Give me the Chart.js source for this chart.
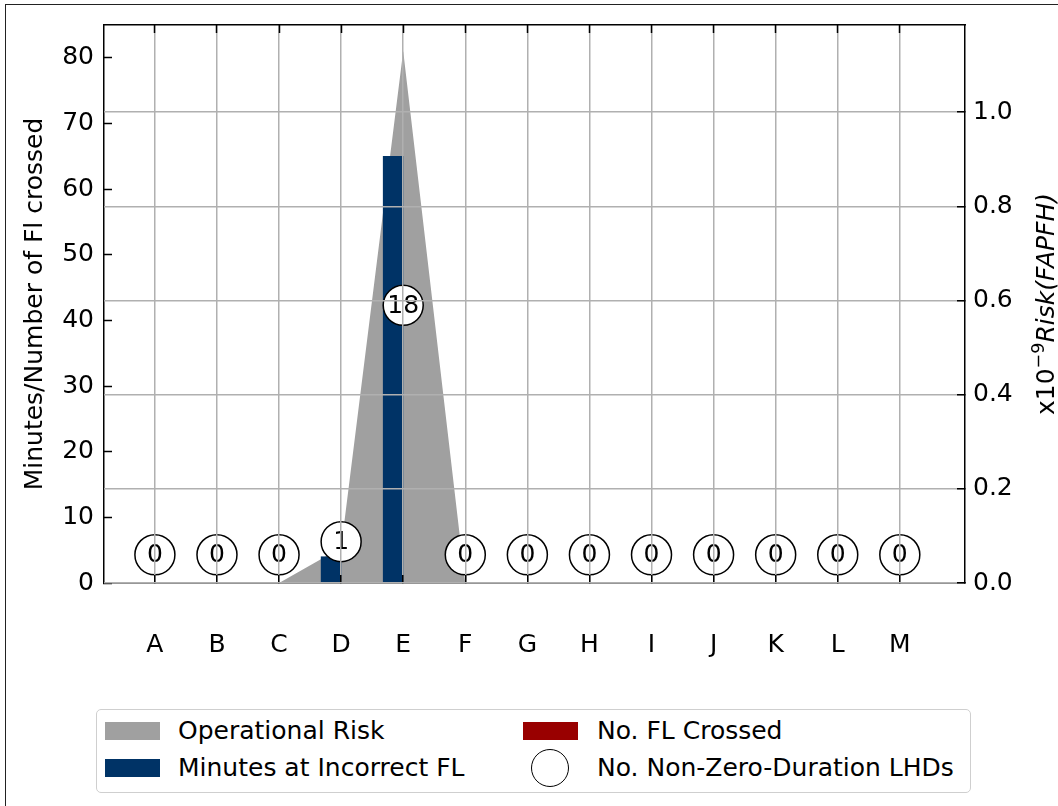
<!DOCTYPE html>
<html>
<head>
<meta charset="utf-8">
<script src="https://cdn.jsdelivr.net/npm/chart.js@4"></script>
<style>
  html, body { margin: 0; padding: 0; background: #fff; }
  #wrap { position: relative; width: 1058px; height: 806px; overflow: hidden; font-family: 'DejaVu Sans', sans-serif; }
  #frame { position: absolute; left: 5px; top: 4px; width: 1200px; height: 1000px; border-top: 1.5px solid #222; border-left: 1.5px solid #222; }
  canvas { position: absolute; left: 0; top: 0; }
  #legend { position: absolute; left: 96px; top: 709px; width: 875px; height: 84px; border: 1.5px solid #cfcfcf; border-radius: 5px; box-sizing: border-box; background: #fff; }
  .lbl { position: absolute; font-size: 25px; line-height: 30px; color: #000; white-space: nowrap; }
  .patch { position: absolute; width: 55px; height: 18px; }
  .ring { position: absolute; width: 36px; height: 36px; border: 1.5px solid #000; border-radius: 50%; background: #fff; }
</style>
</head>
<body>
<div id="wrap">
  <div id="frame"></div>
  <canvas id="chart" width="1058" height="806"></canvas>
  <div id="legend">
    <div class="patch" style="left:8px; top:12px; background:#a0a0a0"></div>
    <div class="lbl" style="left:81px; top:6px">Operational Risk</div>
    <div class="patch" style="left:8px; top:49px; background:#003366"></div>
    <div class="lbl" style="left:81px; top:43px">Minutes at Incorrect FL</div>
    <div class="patch" style="left:426px; top:12px; background:#990000"></div>
    <div class="lbl" style="left:500px; top:6px">No. FL Crossed</div>
    <div class="ring" style="left:434px; top:39px"></div>
    <div class="lbl" style="left:500px; top:43px">No. Non-Zero-Duration LHDs</div>
  </div>
</div>
<script>
const categories = ['A', 'B', 'C', 'D', 'E', 'F', 'G', 'H', 'I', 'J', 'K', 'L', 'M'];
const minutesIncorrect = [0, 0, 0, 4, 65, 0, 0, 0, 0, 0, 0, 0, 0];
const flCrossed = [0, 0, 0, 0, 0, 0, 0, 0, 0, 0, 0, 0, 0];
const operationalRisk = [0, 0, 0, 0.075, 1.13, 0, 0, 0, 0, 0, 0, 0, 0];
const lhdCount = [0, 0, 0, 1, 18, 0, 0, 0, 0, 0, 0, 0, 0];
const lhdLevel = [4.3, 4.3, 4.3, 6.3, 42.3, 4.3, 4.3, 4.3, 4.3, 4.3, 4.3, 4.3, 4.3];
const leftTicks = [0, 10, 20, 30, 40, 50, 60, 70, 80];
const rightTicks = [0, 0.2, 0.4, 0.6, 0.8, 1.0];

const FONT = "'DejaVu Sans', sans-serif";
const font25 = { family: FONT, size: 25 };
const xy = arr => arr.map((v, i) => ({ x: i, y: v }));
const setTicks = vals => scale => { scale.ticks = vals.map(v => ({ value: v })); };
const catIdx = categories.map((c, i) => i);
const spine = { color: '#000', width: 1.5, z: 1 };
const inTicks = { tickLength: -8, tickColor: '#000', tickWidth: 1.5, z: 1 };

// fixed axis box sizes, no extra label padding, so the plot area is 104..965 x 25..583
const fixSize = (w, h) => s => {
  if (w !== null) s.width = w;
  if (h !== null) s.height = h;
  s.paddingTop = 0; s.paddingBottom = 0; s.paddingLeft = 0; s.paddingRight = 0;
};

// numbers inside the LHD circles
const circleText = {
  id: 'circleText',
  afterDatasetsDraw(chart) {
    const meta = chart.getDatasetMeta(3);
    const ctx = chart.ctx;
    ctx.save();
    ctx.font = `25px ${FONT}`;
    ctx.fillStyle = '#000';
    ctx.textAlign = 'center';
    ctx.textBaseline = 'middle';
    meta.data.forEach((pt, i) => ctx.fillText(String(lhdCount[i]), pt.x, pt.y + 1));
    ctx.restore();
  }
};

// right axis title: x10^-9 Risk(FAPFH)
const rightTitle = {
  id: 'rightTitle',
  afterDraw(chart) {
    const ctx = chart.ctx;
    const parts = [
      { t: 'x10', f: `25px ${FONT}`, dy: 0 },
      { t: '\u22129', f: `17.5px ${FONT}`, dy: -10 },
      { t: 'Risk(FAPFH)', f: `italic 25px ${FONT}`, dy: 0 }
    ];
    ctx.save();
    let total = 0;
    parts.forEach(p => { ctx.font = p.f; p.w = ctx.measureText(p.t).width; total += p.w; });
    const a = chart.chartArea;
    ctx.translate(1054, (a.top + a.bottom) / 2);
    ctx.rotate(-Math.PI / 2);
    ctx.fillStyle = '#000';
    ctx.textBaseline = 'alphabetic';
    let x = -total / 2;
    parts.forEach(p => { ctx.font = p.f; ctx.fillText(p.t, x, p.dy); x += p.w; });
    ctx.restore();
  }
};

new Chart(document.getElementById('chart'), {
  type: 'bar',
  data: {
    datasets: [
      {
        type: 'line', label: 'Operational Risk', data: xy(operationalRisk), yAxisID: 'y2',
        backgroundColor: '#a0a0a0', borderWidth: 0, pointRadius: 0, fill: 'origin', tension: 0, order: 3
      },
      { label: 'Minutes at Incorrect FL', data: xy(minutesIncorrect), yAxisID: 'y', backgroundColor: '#003366', barThickness: 20, order: 2 },
      { label: 'No. FL Crossed', data: xy(flCrossed), yAxisID: 'y', backgroundColor: '#990000', barThickness: 20, order: 2 },
      {
        type: 'line', label: 'No. Non-Zero-Duration LHDs', data: xy(lhdLevel), yAxisID: 'y', showLine: false,
        pointRadius: 20, pointBackgroundColor: '#fff', pointBorderColor: '#000', pointBorderWidth: 1.5, order: 1
      }
    ]
  },
  options: {
    responsive: false,
    animation: false,
    events: [],
    layout: { padding: { top: 25, left: 0, right: 0, bottom: 0 } },
    plugins: { legend: { display: false }, tooltip: { enabled: false } },
    scales: {
      x: {
        type: 'linear', position: 'bottom', min: -0.82, max: 13.05, offset: false,
        afterBuildTicks: setTicks(catIdx),
        afterFit: fixSize(null, 223),
        grid: { offset: false, color: '#b0b0b0', lineWidth: 1.5, ...inTicks },
        border: spine,
        ticks: { font: font25, color: '#000', padding: 55, maxRotation: 0, autoSkip: false, callback: v => categories[v] ?? '' }
      },
      xTop: {
        type: 'linear', position: 'top', min: -0.82, max: 13.05, offset: false,
        afterBuildTicks: setTicks(catIdx),
        afterFit: fixSize(null, 0),
        grid: { offset: false, drawOnChartArea: false, ...inTicks },
        border: spine,
        ticks: { display: false }
      },
      y: {
        type: 'linear', position: 'left', min: 0, max: 85,
        afterBuildTicks: setTicks(leftTicks),
        afterFit: fixSize(104, null),
        grid: { drawOnChartArea: false, ...inTicks },
        border: spine,
        ticks: { font: font25, color: '#000', padding: 18 },
        title: { display: true, text: 'Minutes/Number of Fl crossed', font: font25, color: '#000', padding: { top: 20, bottom: 0 } }
      },
      y2: {
        type: 'linear', position: 'right', min: 0, max: 1.185,
        afterBuildTicks: setTicks(rightTicks),
        afterFit: fixSize(93, null),
        grid: { color: '#b0b0b0', lineWidth: 1.5, ...inTicks },
        border: spine,
        ticks: { font: font25, color: '#000', padding: 16, callback: v => v.toFixed(1) }
      }
    }
  },
  plugins: [circleText, rightTitle]
});
</script>
</body>
</html>
